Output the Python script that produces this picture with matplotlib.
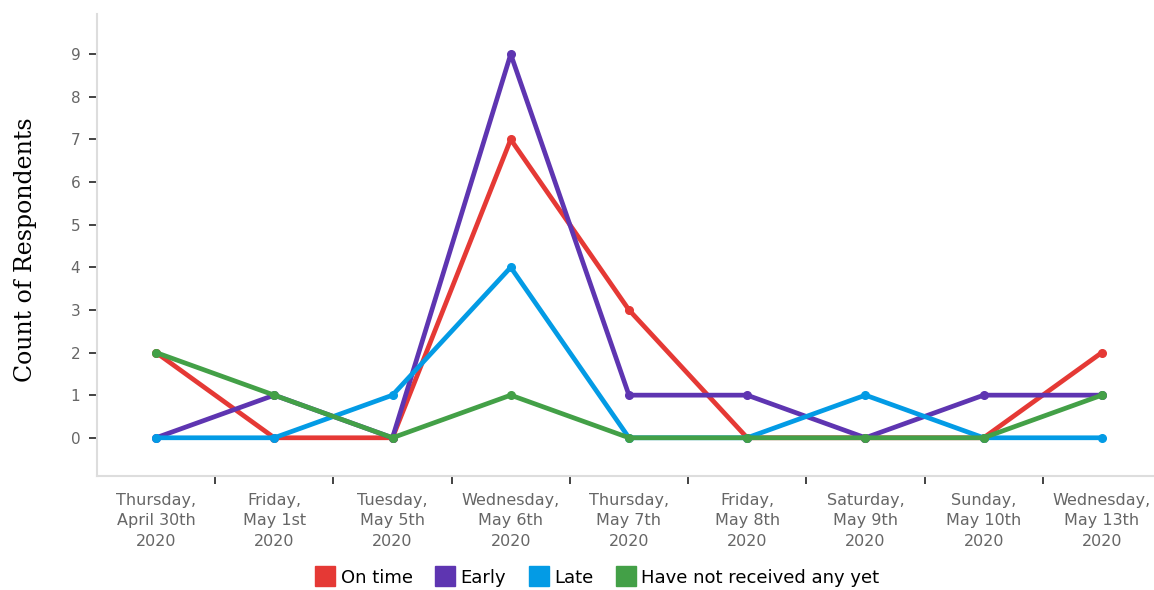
import matplotlib.pyplot as plt
import numpy as np

# ---------------------------------------------------------
# Survey counts per response date
# ---------------------------------------------------------
dates = [
    "Thursday,\nApril 30th\n2020",
    "Friday,\nMay 1st\n2020",
    "Tuesday,\nMay 5th\n2020",
    "Wednesday,\nMay 6th\n2020",
    "Thursday,\nMay 7th\n2020",
    "Friday,\nMay 8th\n2020",
    "Saturday,\nMay 9th\n2020",
    "Sunday,\nMay 10th\n2020",
    "Wednesday,\nMay 13th\n2020",
]

on_time = [2, 0, 0, 7, 3, 0, 0, 0, 2]
early = [0, 1, 0, 9, 1, 1, 0, 1, 1]
late = [0, 0, 1, 4, 0, 0, 1, 0, 0]
not_received = [2, 1, 0, 1, 0, 0, 0, 0, 1]

series_names = ["On time", "Early", "Late", "Have not received any yet"]
series_colors = ["#E53935", "#5E35B1", "#039BE5", "#43A047"]

# ---------------------------------------------------------
# Plotting
# ---------------------------------------------------------
fig = plt.figure(figsize=(11.54, 5.90), dpi=100)
ax = fig.add_axes([0.084, 0.193, 0.92, 0.783])

x = np.arange(len(dates))
for vals, name, col in zip([on_time, early, late, not_received], series_names, series_colors):
    ax.plot(x, vals, color=col, linewidth=3.4, marker="o", markersize=5.5,
            label=name, solid_joinstyle="round", clip_on=False)

ax.set_xlim(-0.5, 8.48)
ax.set_ylim(-0.9, 9.94)

# Category labels centred, tick marks between categories
ax.set_xticks(x)
ax.set_xticklabels(dates, color="#666666", fontsize=11.5, linespacing=1.45)
ax.tick_params(axis="x", which="major", length=0, pad=12)
ax.set_xticks(np.arange(0.5, len(dates) - 0.5, 1), minor=True)
ax.tick_params(axis="x", which="minor", length=6, width=1.2, color="#222222", direction="out")

ax.set_yticks(range(0, 10))
ax.tick_params(axis="y", length=6, width=1.2, color="#222222", labelcolor="#666666",
               labelsize=11, pad=6)

for side in ["top", "right"]:
    ax.spines[side].set_visible(False)
for side in ["left", "bottom"]:
    ax.spines[side].set_color("#dddddd")
    ax.spines[side].set_linewidth(1.5)

ax.set_ylabel("Count of Respondents", fontsize=17, family="DejaVu Serif")
ax.yaxis.set_label_coords(-0.056, 0.49)

handles = [plt.Line2D([], [], marker="s", linestyle="", markersize=14, color=c)
           for c in series_colors]
fig.legend(handles, series_names, loc="center", bbox_to_anchor=(0.518, 0.021),
           ncol=4, frameon=False, fontsize=13, handletextpad=0.35, columnspacing=1.3,
           handlelength=1.0)

plt.savefig("out.png", dpi=100)
plt.close()
